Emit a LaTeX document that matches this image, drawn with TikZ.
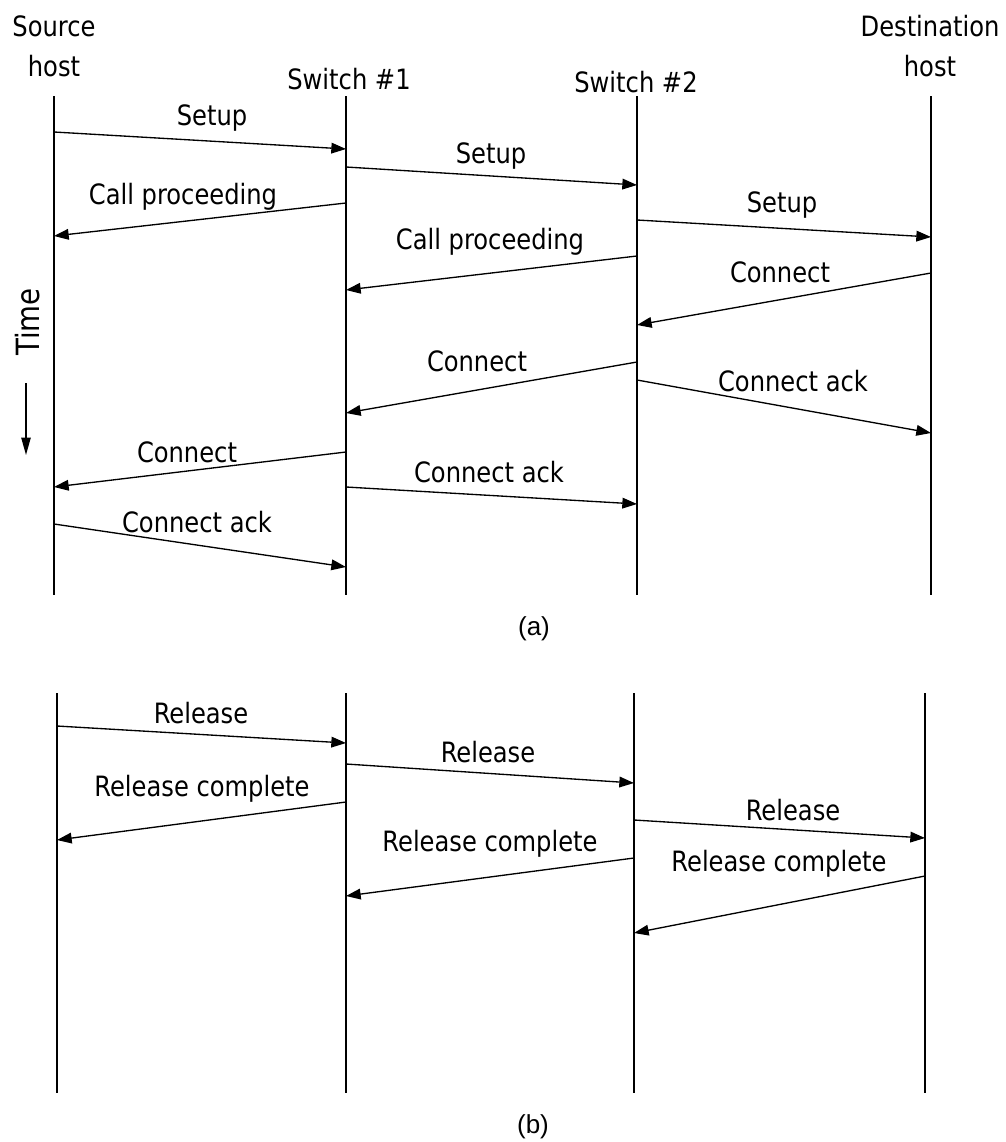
\documentclass[tikz,border=0pt]{standalone}
\usepackage{fontspec}
\setmainfont[FakeStretch=0.96]{DejaVu Sans Condensed}
\newfontfamily\capfont{Liberation Sans}
\usetikzlibrary{arrows.meta}

\begin{document}
\begin{tikzpicture}[x=0.75pt, y=-0.75pt,
    lifeline/.style={line width=1.2pt},
    msg/.style={line width=1pt, -{Triangle[length=11pt, width=8pt]}},
    lbl/.style={anchor=base, inner sep=0pt, font=\fontsize{21}{24}\selectfont},
    head/.style={anchor=north, inner sep=0pt, align=center, font=\fontsize{21}{30}\selectfont}]
    \useasboundingbox (0,0) rectangle (1006,1142);

    % Headers of the lifelines
    \node[head] (src) at (54,15) {Source\\host};
    \node[lbl] (sw1) at (349,89) {Switch \#1};
    \node[lbl] (sw2) at (636,92) {Switch \#2};
    \node[head] (dst) at (930,15) {Destination\\host};

    % Lifelines of part (a)
    \coordinate (srcAtop) at (54,96);   \coordinate (srcAbot) at (54,595);
    \coordinate (swaAtop) at (346,96);  \coordinate (swaAbot) at (346,595);
    \coordinate (swbAtop) at (637,96);  \coordinate (swbAbot) at (637,595);
    \coordinate (dstAtop) at (931,96);  \coordinate (dstAbot) at (931,595);
    \draw[lifeline] (srcAtop) -- (srcAbot);
    \draw[lifeline] (swaAtop) -- (swaAbot);
    \draw[lifeline] (swbAtop) -- (swbAbot);
    \draw[lifeline] (dstAtop) -- (dstAbot);

    % Time axis
    \node[rotate=90, inner sep=0pt, font=\fontsize{24}{28}\selectfont] (time) at (28,322) {Time};
    \coordinate (tTop) at (26,383);
    \coordinate (tBot) at (26,455);
    \draw[line width=1pt, -{Triangle[length=13pt, width=7pt]}] (tTop) -- (tBot);

    % End points of the messages in (a)
    \coordinate (a1s) at (54,132);   \coordinate (a1e) at (346,149);
    \coordinate (a2s) at (346,167);  \coordinate (a2e) at (637,185);
    \coordinate (a3s) at (346,203);  \coordinate (a3e) at (54,236);
    \coordinate (a4s) at (637,220);  \coordinate (a4e) at (931,237);
    \coordinate (a5s) at (637,256);  \coordinate (a5e) at (346,290);
    \coordinate (a6s) at (931,273);  \coordinate (a6e) at (637,325);
    \coordinate (a7s) at (637,362);  \coordinate (a7e) at (346,413);
    \coordinate (a8s) at (637,380);  \coordinate (a8e) at (931,433);
    \coordinate (a9s) at (346,452);  \coordinate (a9e) at (54,487);
    \coordinate (a10s) at (346,487); \coordinate (a10e) at (637,504);
    \coordinate (a11s) at (54,524);  \coordinate (a11e) at (346,567);

    % Messages of (a)
    \draw[msg] (a1s) -- (a1e);
    \draw[msg] (a2s) -- (a2e);
    \draw[msg] (a3s) -- (a3e);
    \draw[msg] (a4s) -- (a4e);
    \draw[msg] (a5s) -- (a5e);
    \draw[msg] (a6s) -- (a6e);
    \draw[msg] (a7s) -- (a7e);
    \draw[msg] (a8s) -- (a8e);
    \draw[msg] (a9s) -- (a9e);
    \draw[msg] (a10s) -- (a10e);
    \draw[msg] (a11s) -- (a11e);

    % Labels of (a)
    \node[lbl] (la1) at (212,125) {Setup};
    \node[lbl] (la2) at (491,163) {Setup};
    \node[lbl] (la3) at (183,204) {Call proceeding};
    \node[lbl] (la4) at (782,212) {Setup};
    \node[lbl] (la5) at (490,249) {Call proceeding};
    \node[lbl] (la6) at (780,282) {Connect};
    \node[lbl] (la7) at (477,371) {Connect};
    \node[lbl] (la8) at (793,391) {Connect ack};
    \node[lbl] (la9) at (187,462) {Connect};
    \node[lbl] (la10) at (489,482) {Connect ack};
    \node[lbl] (la11) at (197,532) {Connect ack};
    \node[lbl, font=\capfont\fontsize{19.5}{24}\selectfont] (capA) at (534,635) {(a)};

    % Lifelines of part (b)
    \coordinate (srcBtop) at (57,693);   \coordinate (srcBbot) at (57,1093);
    \coordinate (swaBtop) at (346,693);  \coordinate (swaBbot) at (346,1093);
    \coordinate (swbBtop) at (634,693);  \coordinate (swbBbot) at (634,1093);
    \coordinate (dstBtop) at (925,693);  \coordinate (dstBbot) at (925,1093);
    \draw[lifeline] (srcBtop) -- (srcBbot);
    \draw[lifeline] (swaBtop) -- (swaBbot);
    \draw[lifeline] (swbBtop) -- (swbBbot);
    \draw[lifeline] (dstBtop) -- (dstBbot);

    % End points of the messages in (b)
    \coordinate (b1s) at (57,726);   \coordinate (b1e) at (346,743);
    \coordinate (b2s) at (346,764);  \coordinate (b2e) at (634,783);
    \coordinate (b3s) at (346,802);  \coordinate (b3e) at (57,840);
    \coordinate (b4s) at (634,820);  \coordinate (b4e) at (925,838);
    \coordinate (b5s) at (634,858);  \coordinate (b5e) at (346,896);
    \coordinate (b6s) at (925,876);  \coordinate (b6e) at (634,933);

    % Messages of (b)
    \draw[msg] (b1s) -- (b1e);
    \draw[msg] (b2s) -- (b2e);
    \draw[msg] (b3s) -- (b3e);
    \draw[msg] (b4s) -- (b4e);
    \draw[msg] (b5s) -- (b5e);
    \draw[msg] (b6s) -- (b6e);

    % Labels of (b)
    \node[lbl] (lb1) at (201,723) {Release};
    \node[lbl] (lb2) at (488,762) {Release};
    \node[lbl] (lb3) at (202,796) {Release complete};
    \node[lbl] (lb4) at (793,820) {Release};
    \node[lbl] (lb5) at (490,851) {Release complete};
    \node[lbl] (lb6) at (779,871) {Release complete};
    \node[lbl, font=\capfont\fontsize{19.5}{24}\selectfont] (capB) at (533,1133) {(b)};
\end{tikzpicture}
\end{document}
